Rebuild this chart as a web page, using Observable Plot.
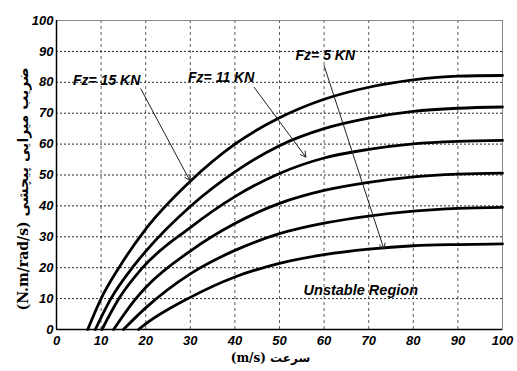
<!DOCTYPE html>
<html><head><meta charset="utf-8">
<script src="https://cdn.jsdelivr.net/npm/d3@7"></script>
<script src="https://cdn.jsdelivr.net/npm/@observablehq/plot@0.6"></script>
<style>body{margin:0;background:#fff}</style>
</head><body><div id="chart"></div>
<script>
// ---- data ----
const fzLoads = ["15", "13", "11", "9", "7", "5"];
const speed15 = [7, 10, 14, 20, 30, 40, 50, 60, 70, 80, 90, 100];
const damp15  = [0, 10, 20, 32.5, 48, 60, 68.5, 74.5, 78.4, 80.8, 82, 82.2];
const speed13 = [8.7, 12.2, 17, 20, 30, 40, 50, 60, 70, 80, 90, 100];
const damp13  = [0, 10, 20, 25.3, 39.8, 51, 59.5, 65, 68.4, 70.6, 71.6, 72];
const speed11 = [10.2, 14, 19.3, 30, 40, 50, 60, 70, 80, 90, 100];
const damp11  = [0, 10, 20, 33, 43, 50.5, 55.5, 58.3, 60.1, 60.9, 61.2];
const speed9  = [12.8, 17.8, 20, 30, 40, 50, 60, 70, 80, 90, 100];
const damp9   = [0, 10, 13.6, 25.4, 34.3, 40.8, 45, 47.6, 49.4, 50.3, 50.6];
const speed7  = [15, 20, 30, 40, 50, 60, 70, 80, 90, 100];
const damp7   = [0, 7, 18, 25.6, 31, 34.4, 36.7, 38.3, 39.2, 39.5];
const speed5  = [18.4, 20, 30, 40, 50, 60, 70, 80, 90, 100];
const damp5   = [0, 1.8, 10.4, 17, 21.4, 24.2, 26, 27.1, 27.5, 27.7];

const xTicks = [0, 10, 20, 30, 40, 50, 60, 70, 80, 90, 100];
const yTicks = [0, 10, 20, 30, 40, 50, 60, 70, 80, 90, 100];

const annoText  = ["Fz= 15 KN", "Fz= 11 KN", "Fz= 5 KN"];
const annoX     = [3.7, 29.5, 53.6];
const annoY     = [80.6, 81.5, 88.7];
const arrowX1   = [18.9, 44.3, 60];
const arrowY1   = [77.9, 78.4, 85.4];
const arrowX2   = [29.9, 55.9, 73.4];
const arrowY2   = [48.2, 55.8, 26.1];
const regionText = "Unstable Region";
const regionX = 55.4, regionY = 12.6;

const xLabel = "(m/s) سرعت";
const yLabel = "(N.m/rad/s) ضریب میرایی پیچشی";

// ---- build table ----
const seriesX = [speed15, speed13, speed11, speed9, speed7, speed5];
const seriesY = [damp15, damp13, damp11, damp9, damp7, damp5];
const rows = [];
seriesX.forEach((xs, i) => xs.forEach((v, j) => rows.push({fz: fzLoads[i], v, c: seriesY[i][j]})));
const annos = annoText.map((t, i) => ({t, x: annoX[i], y: annoY[i], x1: arrowX1[i], y1: arrowY1[i], x2: arrowX2[i], y2: arrowY2[i]}));

const tickFont = {fontFamily: "'Liberation Sans', Arial, sans-serif", fontWeight: "bold", fontStyle: "italic", fontSize: 13};

const chart = Plot.plot({
  width: 517, height: 371,
  marginLeft: 56, marginRight: 15, marginTop: 20, marginBottom: 42,
  x: {domain: [0, 100]},
  y: {domain: [0, 100]},
  style: {background: "#fff", color: "#000"},
  marks: [
    Plot.gridX(xTicks, {stroke: "#333", strokeOpacity: 0.8, strokeDasharray: "3,3"}),
    Plot.gridY(yTicks, {stroke: "#000", strokeOpacity: 0.85, strokeDasharray: "2,2"}),
    Plot.frame({stroke: "#888"}),
    Plot.ruleX([0], {stroke: "#000", strokeWidth: 1.5}),
    Plot.ruleY([0], {stroke: "#000", strokeWidth: 1.5}),
    Plot.axisX(xTicks, {tickSize: 0, tickPadding: 6, label: null, ...tickFont}),
    Plot.axisY(yTicks, {tickSize: 0, tickPadding: 3, label: null, ...tickFont}),
    Plot.line(rows, {x: "v", y: "c", z: "fz", stroke: "#000", strokeWidth: 2.8, curve: "monotone-x"}),
    Plot.arrow(annos, {x1: "x1", y1: "y1", x2: "x2", y2: "y2", stroke: "#222", strokeWidth: 1, headLength: 9, bend: 0}),
    Plot.text(annos, {x: "x", y: "y", text: "t", textAnchor: "start", ...tickFont, fontSize: 14}),
    Plot.text([regionText], {x: [regionX], y: [regionY], text: d => d, textAnchor: "start", ...tickFont, fontSize: 14.5}),
    Plot.text([xLabel], {frameAnchor: "bottom", text: d => d, dx: -9, dy: 29, lineAnchor: "middle", fontFamily: "'DejaVu Serif', 'DejaVu Sans', serif", fontWeight: "bold", fontSize: 12}),
    Plot.text([yLabel], {frameAnchor: "left", text: d => d, rotate: -90, dx: -33, dy: 14, lineAnchor: "middle", textAnchor: "middle", fontFamily: "'DejaVu Serif', 'DejaVu Sans', serif", fontWeight: "bold", fontSize: 14})
  ]
});
document.getElementById("chart").appendChild(chart);
</script>
</body></html>
